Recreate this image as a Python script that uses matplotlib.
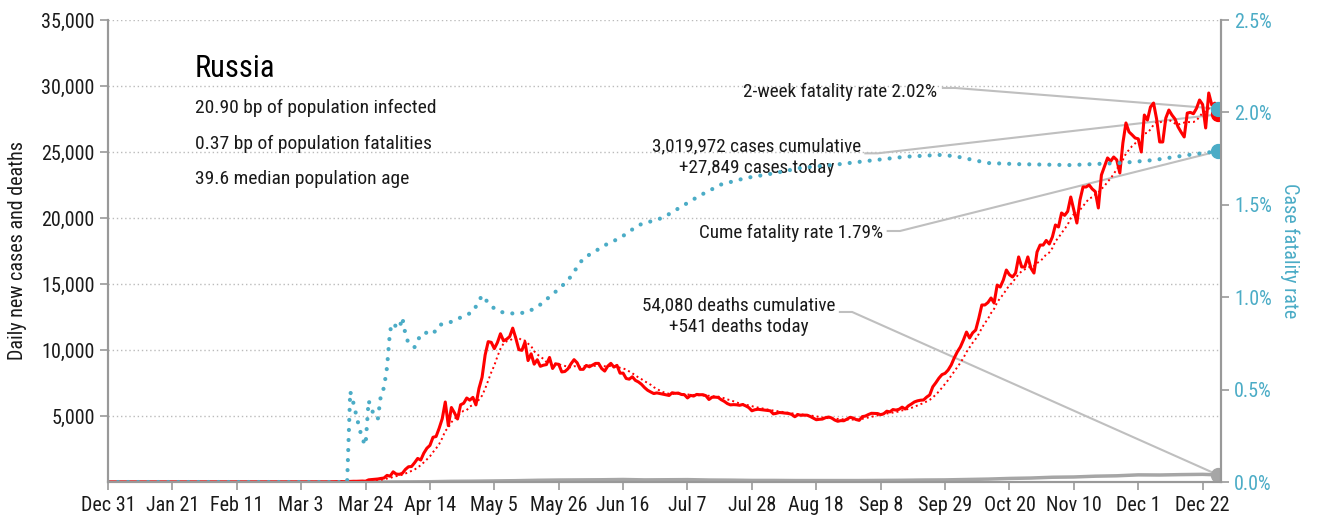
import matplotlib.pyplot as plt
import numpy as np
import pandas as pd

plt.rcParams['font.family'] = ['Roboto Condensed', 'DejaVu Sans']

RED = '#ff0000'
BLUE = '#4bacc6'
GREY = '#a6a6a6'
LEADER = '#bfbfbf'
INK = '#1a1a1a'

# daily new cases, Russia 2020 (day 0 = Dec 31 2019)
cases_jan_feb = [0] * 61
cases_mar = [0, 1, 0, 0, 1, 6, 3, 4, 0, 3, 8, 6, 11, 14, 29, 31, 21, 33, 52, 54,
             53, 61, 71, 57, 163, 182, 196, 228, 270, 302, 501]
cases_apr = [440, 771, 601, 582, 658, 954, 1154, 1175, 1459, 1786, 1667, 2186, 2558, 2774, 3388,
             3448, 4070, 4785, 6060, 4268, 5642, 5236, 4774, 5849, 5966, 6361, 6198, 6411, 5841, 7099]
cases_may = [7933, 9623, 10633, 10581, 10102, 10559, 11231, 10699, 10817, 11012, 11656, 10899, 10028,
             9974, 10598, 9200, 9709, 8926, 9263, 8764, 8849, 8894, 9434, 8599, 8946, 8915, 8338,
             8371, 8572, 8952, 9268]
cases_jun = [9035, 8536, 8536, 8831, 8726, 8855, 8984, 8985, 8595, 8404, 8779, 8987, 8706, 8835, 8246,
             8248, 7843, 7790, 7972, 7700, 7580, 7400, 7150, 6950, 6820, 6700, 6750, 6700, 6650, 6600]
cases_jul = [6556, 6760, 6718, 6736, 6632, 6611, 6368, 6562, 6509, 6635, 6611, 6615, 6537, 6248, 6422,
             6428, 6406, 6234, 6109, 5940, 5842, 5862, 5848, 5811, 5871, 5765, 5635, 5395, 5475, 5509,
             5482]
cases_aug = [5462, 5427, 5394, 5159, 5204, 5267, 5241, 5212, 5189, 5118, 4945, 5102, 5057, 5065, 5061,
             4969, 4839, 4718, 4748, 4767, 4870, 4921, 4852, 4696, 4600, 4650, 4640, 4760, 4900, 4850,
             4729]
cases_sep = [4670, 4952, 4995, 5110, 5205, 5195, 5185, 5099, 5172, 5363, 5310, 5488, 5449, 5509, 5670,
             5529, 5762, 5905, 6065, 6148, 6196, 6215, 6431, 6595, 7212, 7523, 7867, 8135, 8232, 8481]
cases_oct = [8860, 9400, 9860, 10230, 10760, 11360, 10910, 11300, 11515, 12400, 13410, 13410, 13600,
             13940, 13560, 14920, 14770, 15300, 16060, 15700, 15530, 15830, 17050, 16290, 16290, 17050,
             16200, 15830, 17425, 17950, 17950]
cases_nov = [18300, 18030, 18560, 19470, 19320, 20380, 20200, 20500, 21590, 20600, 19620, 21360, 22350,
             22350, 22500, 22200, 22000, 20760, 23260, 23900, 24550, 24300, 24620, 24400, 23410, 25680,
             27200, 26520, 26300, 26060]
cases_dec = [26000, 25000, 27800, 27420, 28410, 28710, 27500, 25760, 25760, 27570, 28180, 27800, 27500,
             26900, 26500, 26140, 27950, 28000, 27900, 28300, 28940, 28600, 26820, 29470, 28560, 28700,
             27849]

# daily deaths, weekly readings
death_days = [0, 77, 84, 91, 98, 105, 112, 119, 126, 133, 140, 147, 154, 161, 168, 175, 182, 189, 196,
              203, 210, 217, 224, 231, 238, 245, 252, 259, 266, 273, 280, 287, 294, 301, 308, 315, 322,
              329, 336, 343, 350, 357, 362]
deaths = [0, 0, 0, 2, 10, 20, 50, 60, 80, 100, 130, 150, 160, 170, 190, 160, 170, 180, 150, 140, 120,
          120, 110, 110, 110, 110, 120, 130, 150, 160, 190, 220, 270, 300, 360, 380, 440, 470, 540, 530,
          560, 580, 541]

# cumulative case fatality rate, %
cfr_days = [0, 78, 79, 80, 81, 82, 83, 84, 85, 86, 87, 88, 89, 90, 91, 92, 93, 94, 95, 96, 97, 98, 99,
            100, 101, 103, 106, 108, 111, 115, 119, 122, 125, 128, 133, 137, 141, 146, 150, 155, 163,
            167, 173, 181, 186, 193, 200, 208, 217, 226, 236, 249, 260, 271, 276, 287, 297, 314, 321,
            330, 341, 352, 362]
cfr = [0.0, 0.0, 0.49, 0.43, 0.36, 0.29, 0.23, 0.20, 0.44, 0.39, 0.36, 0.34, 0.47, 0.51, 0.62, 0.82,
       0.86, 0.84, 0.83, 0.89, 0.80, 0.75, 0.74, 0.73, 0.77, 0.81, 0.80, 0.85, 0.86, 0.89, 0.92, 1.01,
       0.95, 0.92, 0.91, 0.92, 0.96, 1.03, 1.09, 1.21, 1.29, 1.32, 1.39, 1.43, 1.48, 1.55, 1.61, 1.645,
       1.67, 1.70, 1.715, 1.74, 1.76, 1.77, 1.764, 1.726, 1.72, 1.715, 1.72, 1.726, 1.742, 1.769, 1.79]

tick_labels = ['Dec 31', 'Jan 21', 'Feb 11', 'Mar 3', 'Mar 24', 'Apr 14', 'May 5', 'May 26', 'Jun 16',
               'Jul 7', 'Jul 28', 'Aug 18', 'Sep 8', 'Sep 29', 'Oct 20', 'Nov 10', 'Dec 1', 'Dec 22']

cases_total = 3019972
deaths_total = 54080
cfr_2wk = 2.02
cfr_cume = 1.79
headline = ['20.90 bp of population infected',
            '0.37 bp of population fatalities',
            '39.6 median population age']

cases = np.array(cases_jan_feb + cases_mar + cases_apr + cases_may + cases_jun + cases_jul
                 + cases_aug + cases_sep + cases_oct + cases_nov + cases_dec)
days = np.arange(len(cases))
cases_avg = pd.Series(cases).rolling(7, min_periods=1).mean()
last = days[-1]

YMAX = 35000
PMAX = 2.5
pct = YMAX / PMAX   # left-axis units per percent

fig = plt.figure(figsize=(13.17, 5.2), dpi=100)
ax = fig.add_axes([108 / 1317, 38 / 520, 1113 / 1317, 462 / 520])
ax2 = ax.twinx()

ax.set_xlim(0, 363)
ax.set_ylim(0, YMAX)
ax2.set_ylim(0, PMAX)

ax.yaxis.grid(True, linestyle=(0, (1, 2)), color='#bbbbbb', lw=1)
ax.set_axisbelow(True)

ax.plot(death_days, deaths, color=GREY, lw=2.5, solid_joinstyle='round')
ax.plot(days, cases_avg, color=RED, lw=1.4, linestyle=(0, (1, 1.6)))
ax.plot(days, cases, color=RED, lw=2.2, solid_joinstyle='round')
ax.plot(last, deaths[-1], 'o', color=GREY, ms=10)
ax.plot(last, cases[-1], 'o', color=RED, ms=10)

ax2.plot(cfr_days, cfr, color=BLUE, lw=3, linestyle=(0, (0.01, 2.4)), dash_capstyle='round')
ax2.plot(last, cfr_cume, 'o', color=BLUE, ms=10)
ax2.plot(last, cfr_2wk, 'o', color=BLUE, ms=10)

# axes styling
for a in (ax, ax2):
    a.spines['top'].set_visible(False)
    for s in ('left', 'right', 'bottom'):
        a.spines[s].set_color('#999999')
        a.spines[s].set_linewidth(1.5)

ax.set_xticks(np.arange(0, 358, 21))
ax.set_xticklabels(tick_labels)
ax.set_yticks(np.arange(5000, 35001, 5000))
ax.set_yticklabels([f'{v:,}' for v in range(5000, 35001, 5000)])
ax.tick_params(axis='both', direction='out', length=6, width=1.2, color='#999999',
               labelsize=14.5, labelcolor=INK)
ax.tick_params(axis='x', pad=4)
ax2.set_yticks(np.arange(0, 2.51, 0.5))
ax2.set_yticklabels([f'{v:.1f}%' for v in np.arange(0, 2.51, 0.5)])
ax2.tick_params(axis='y', direction='out', length=6, width=1.2, color='#999999',
                labelsize=14.5, labelcolor=BLUE)

ax.set_ylabel('Daily new cases and deaths', fontsize=14.5, color=INK, va='center')
ax.yaxis.set_label_coords(-0.081, 0.5)
ax2.set_ylabel('Case fatality rate', fontsize=14.5, color=BLUE, rotation=270, va='center')
ax2.yaxis.set_label_coords(1.062, 0.5)

# headline block
ax.text(28.4, 30680, 'Russia', fontsize=22, color='black')
for txt, yb in zip(headline, [27955, 25230, 22576]):
    ax.text(28.4, yb, txt, fontsize=14, color=INK)


def leader(x0, y0, target):
    ax.plot([x0, x0 + 4, last], [y0, y0, target], color=LEADER, lw=1.5, zorder=1)


NOTE = 13.8

ax.text(270.3, 29167, f'2-week fatality rate {cfr_2wk:.2f}%', fontsize=NOTE, color=INK, ha='right')
leader(272.3, 29850, cfr_2wk * pct)

ax.text(211.6, 23410, f'{cases_total:,} cases cumulative\n+{cases[-1]:,} cases today',
        fontsize=NOTE, color=INK, ha='center', multialignment='center', linespacing=1.25)
leader(247.0, 24900, cases[-1])

ax.text(252.7, 18485, f'Cume fatality rate {cfr_cume:.2f}%', fontsize=NOTE, color=INK, ha='right')
leader(254.3, 19015, cfr_cume * pct)

ax.text(205.7, 11360, f'{deaths_total:,} deaths cumulative\n+{deaths[-1]:,} deaths today',
        fontsize=NOTE, color=INK, ha='center', multialignment='center', linespacing=1.25)
leader(238.7, 12880, deaths[-1])

fig.savefig('out.png', dpi=100)
